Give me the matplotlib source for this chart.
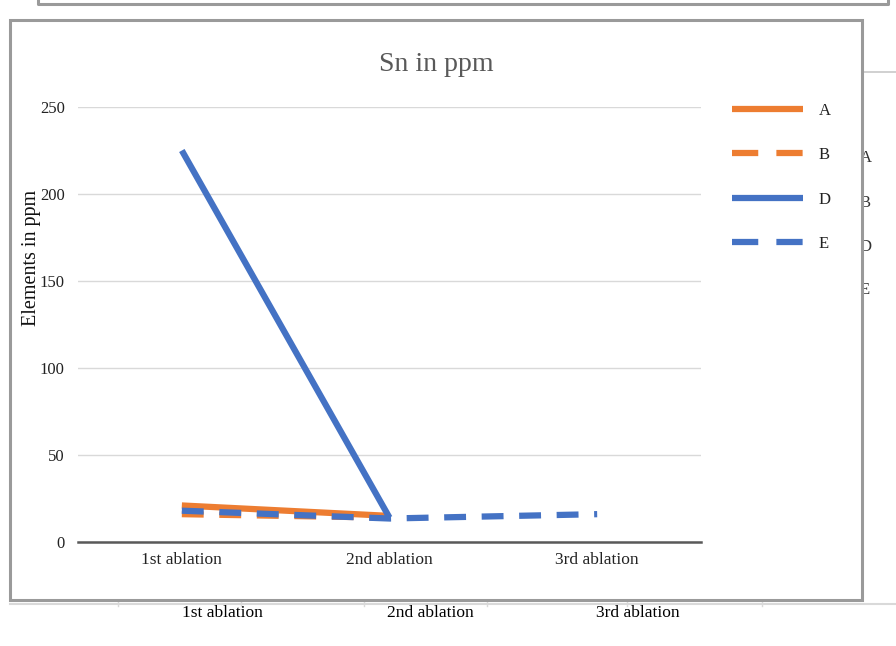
import matplotlib
matplotlib.use('Agg')
import matplotlib.pyplot as plt
from matplotlib.patches import Rectangle
from matplotlib.lines import Line2D

plt.rcParams['font.family'] = ['Liberation Serif', 'DejaVu Serif']

# Sn readings per ablation
categories = ['1st ablation', '2nd ablation', '3rd ablation']
series_names = ['A', 'B', 'D', 'E']
sn_A = [21, 15]
sn_B = [16, 14]
sn_D = [225, 14]
sn_E = [18, 13.5, 16]
yticks = [0, 50, 100, 150, 200, 250]

orange = '#ED7D31'
blue = '#4472C4'

W, H = 896, 646
fig = plt.figure(figsize=(W / 100, H / 100), dpi=100)
fig.patch.set_facecolor('white')


def fx(x):
    return x / W


def fy(y):
    return 1 - y / H


# the chart sitting behind this one
fig.add_artist(Line2D([fx(38), fx(38), fx(888), fx(888)], [fy(-5), fy(4), fy(4), fy(-5)],
                      color='#9a9a9a', lw=2.2, zorder=1))
fig.add_artist(Line2D([fx(862), fx(896)], [fy(72), fy(72)], color='#c8c8c8', lw=1.2, zorder=1))
fig.add_artist(Line2D([fx(10), fx(896)], [fy(604), fy(604)], color='#d9d9d9', lw=1.5, zorder=1))
for tx in [118, 241, 364, 487, 627, 762]:
    fig.add_artist(Line2D([fx(tx), fx(tx)], [fy(600), fy(606)], color='#d9d9d9', lw=1, zorder=1))
for name, yy in zip(series_names, [158, 203, 247, 290]):
    fig.text(fx(860), fy(yy), name, fontsize=12, color='#333333', va='center', ha='left', zorder=1)
for name, xx in zip(categories, [222, 430, 638]):
    fig.text(fx(xx), fy(613), name, fontsize=12.5, color='black', ha='center', va='center', zorder=1)

# frame of the front chart
fig.add_artist(Rectangle((fx(10), fy(600)), fx(852), 580 / H, transform=fig.transFigure,
                         facecolor='white', edgecolor='#9a9a9a', lw=2.2, zorder=2))

ax = fig.add_axes([fx(78), fy(542), fx(701) - fx(78), (542 - 107) / H], zorder=3)
ax.set_facecolor('none')

x = list(range(len(categories)))
dash = (3.5, 2.5)
ax.plot(x[:len(sn_A)], sn_A, color=orange, lw=4.5, label='A', solid_capstyle='butt')
ax.plot(x[:len(sn_B)], sn_B, color=orange, lw=4.5, label='B', dashes=dash, dash_capstyle='butt')
ax.plot(x[:len(sn_D)], sn_D, color=blue, lw=4.5, label='D', solid_capstyle='butt')
ax.plot(x[:len(sn_E)], sn_E, color=blue, lw=4.5, label='E', dashes=dash, dash_capstyle='butt')

ax.set_xlim(-0.5, 2.5)
ax.set_ylim(0, 250)
ax.set_yticks(yticks)
ax.set_xticks(x)
ax.set_xticklabels(categories)
ax.tick_params(axis='both', length=0, colors='#222222')
ax.tick_params(axis='y', pad=9.5, labelsize=12)
ax.tick_params(axis='x', pad=7.5, labelsize=12.5)
ax.grid(axis='y', color='#d9d9d9', lw=1)
ax.set_axisbelow(True)
for s in ['top', 'right', 'left']:
    ax.spines[s].set_visible(False)
ax.spines['bottom'].set_color('#595959')
ax.spines['bottom'].set_linewidth(1.8)

ax.set_ylabel('Elements in ppm', fontsize=14.5, color='#111111')
ax.yaxis.set_label_coords(-0.06, 0.653)
ax.text(0.575, 1.097, 'Sn in ppm', transform=ax.transAxes, ha='center', va='center',
        fontsize=20, color='#595959')

leg = ax.legend(loc='upper left', bbox_to_anchor=(fx(732), fy(103)), bbox_transform=fig.transFigure,
                frameon=False, fontsize=12, handlelength=4.25, handletextpad=0.95,
                labelspacing=1.7, borderpad=0, borderaxespad=0)
for t in leg.get_texts():
    t.set_color('#222222')
for ln in leg.get_lines():
    if ln.get_linestyle() != '-':
        ln.set_dashes((4.2, 2.9))

fig.savefig('out.png', dpi=100)
